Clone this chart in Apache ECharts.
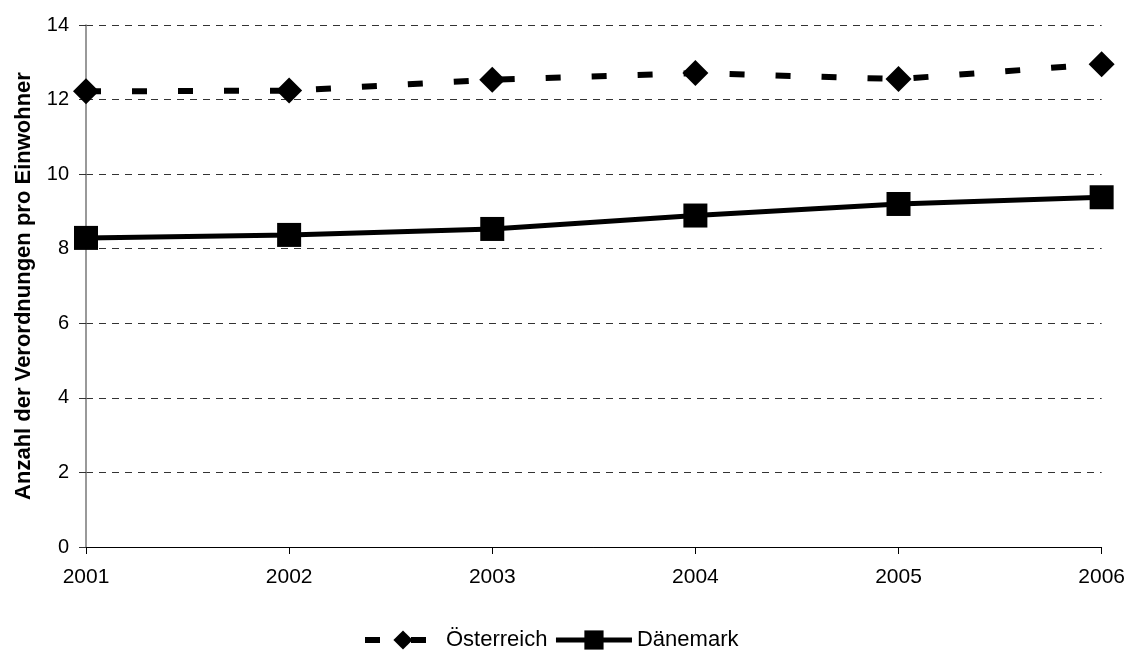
<!DOCTYPE html>
<html>
<head>
<meta charset="utf-8">
<script src="https://cdn.jsdelivr.net/npm/echarts@6/dist/echarts.min.js"></script>
<style>
  html, body { margin: 0; padding: 0; background: #fff; }
  #chart { width: 1128px; height: 652px; }
</style>
</head>
<body>
<div id="chart"></div>
<script>
// Prescriptions per inhabitant, 2001–2006
const years = ['2001', '2002', '2003', '2004', '2005', '2006'];
const oesterreich = [12.22, 12.24, 12.53, 12.71, 12.55, 12.95];
const daenemark = [8.29, 8.37, 8.53, 8.89, 9.20, 9.38];
const yTicks = { min: 0, max: 14, interval: 2 };

const font = 'Liberation Sans, Arial, sans-serif';

const chart = echarts.init(document.getElementById('chart'), null, { renderer: 'canvas' });
chart.setOption({
  animation: false,
  backgroundColor: '#ffffff',
  grid: { left: 86, right: 26, top: 25, bottom: 105, containLabel: false },
  xAxis: {
    type: 'category',
    data: years,
    boundaryGap: false,
    axisLine: { lineStyle: { color: '#000', width: 1 } },
    axisTick: { show: true, length: 7, lineStyle: { color: '#000' } },
    axisLabel: { color: '#000', fontSize: 21, fontFamily: font, margin: 20 },
    splitLine: { show: false }
  },
  yAxis: {
    type: 'value',
    min: yTicks.min,
    max: yTicks.max,
    interval: yTicks.interval,
    name: 'Anzahl der Verordnungen pro Einwohner',
    nameLocation: 'middle',
    nameGap: 51,
    nameTextStyle: { color: '#000', fontSize: 22, fontWeight: 'bold', fontFamily: font },
    axisLine: { show: true, lineStyle: { color: '#777', width: 1.5 } },
    axisTick: { show: true, length: 7, lineStyle: { color: '#333' } },
    axisLabel: { color: '#000', fontSize: 20, fontFamily: font, margin: 17 },
    splitLine: { show: true, lineStyle: { color: '#333', width: 1, type: [7, 6] } }
  },
  legend: {
    top: 629,
    left: 362,
    padding: 0,
    itemWidth: 76,
    itemHeight: 24,
    itemGap: 6,
    lineStyle: { width: 'inherit', type: 'inherit' },
    textStyle: { color: '#000', fontSize: 22, fontFamily: font },
    data: ['Österreich', 'Dänemark']
  },
  series: [
    {
      name: 'Österreich',
      type: 'line',
      data: oesterreich,
      symbol: 'diamond',
      symbolSize: [26, 26],
      itemStyle: { color: '#000' },
      lineStyle: { color: '#000', width: 6, type: [15, 31] }
    },
    {
      name: 'Dänemark',
      type: 'line',
      data: daenemark,
      symbol: 'rect',
      symbolSize: 24,
      itemStyle: { color: '#000' },
      lineStyle: { color: '#000', width: 5, type: 'solid' }
    }
  ]
});
</script>
</body>
</html>
